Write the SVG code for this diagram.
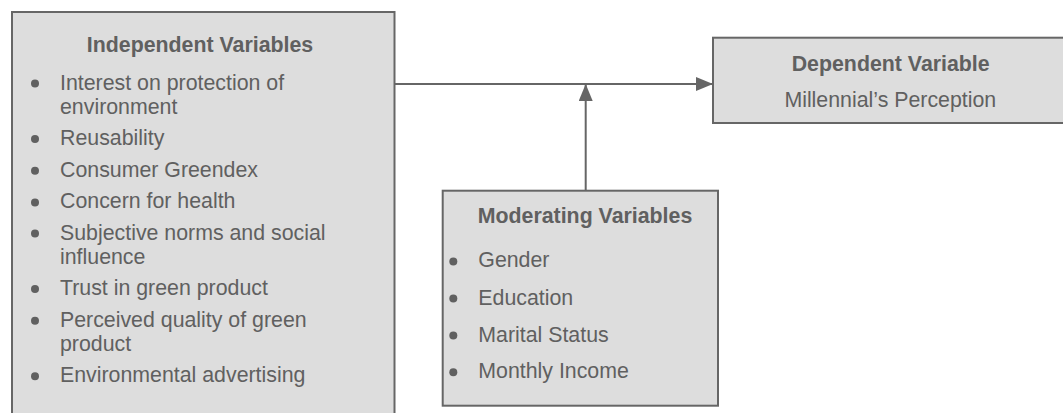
<svg xmlns="http://www.w3.org/2000/svg" width="1063" height="413" viewBox="0 0 1063 413">
<style>
.box{fill:#dddddd;stroke:#666666;stroke-width:2}
.t{font-family:"Liberation Sans",Arial,sans-serif;font-size:21.33px;fill:#606060}
.b{font-weight:bold;text-anchor:middle}
.dot{fill:#606060}
.conn{stroke:#666666;stroke-width:2;fill:none}
</style>
<defs>
<marker id="ah" viewBox="0 0 17 14" refX="17" refY="7" markerWidth="17" markerHeight="14" markerUnits="userSpaceOnUse" orient="auto">
<path d="M0,0 L17,7 L0,14 Z" fill="#666666"/>
</marker>
</defs>
<g id="connectors">
<line class="conn" x1="395" y1="84" x2="713" y2="84" marker-end="url(#ah)"/>
<line class="conn" x1="585.7" y1="191" x2="585.7" y2="84" marker-end="url(#ah)"/>
</g>
<g id="independent">
<rect class="box" x="12" y="12" width="382.5" height="420"/>
<text class="t b" x="200" y="51.7">Independent Variables</text>
<g class="t">
<text x="60" y="89.5">Interest on protection of</text>
<text x="60" y="113.5">environment</text>
<text x="60" y="145">Reusability</text>
<text x="60" y="176.8">Consumer Greendex</text>
<text x="60" y="208.4">Concern for health</text>
<text x="60" y="239.5">Subjective norms and social</text>
<text x="60" y="263.5">influence</text>
<text x="60" y="295">Trust in green product</text>
<text x="60" y="326.8">Perceived quality of green</text>
<text x="60" y="350.5">product</text>
<text x="60" y="382.3">Environmental advertising</text>
</g>
<g class="dot">
<circle cx="35" cy="83.5" r="4"/>
<circle cx="35" cy="139" r="4"/>
<circle cx="35" cy="170.8" r="4"/>
<circle cx="35" cy="202.4" r="4"/>
<circle cx="35" cy="233.5" r="4"/>
<circle cx="35" cy="289" r="4"/>
<circle cx="35" cy="320.8" r="4"/>
<circle cx="35" cy="376.3" r="4"/>
</g>
</g>
<g id="dependent">
<rect class="box" x="713" y="37.7" width="360" height="85.3"/>
<text class="t b" x="890.7" y="70.7">Dependent Variable</text>
<text class="t" x="890.3" y="106.7" text-anchor="middle">Millennial’s Perception</text>
</g>
<g id="moderating">
<rect class="box" x="442.7" y="190.7" width="275.3" height="215"/>
<text class="t b" x="585" y="223.3">Moderating Variables</text>
<g class="t">
<text x="478.3" y="267.3">Gender</text>
<text x="478.3" y="304.5">Education</text>
<text x="478.3" y="341.5">Marital Status</text>
<text x="478.3" y="378.3">Monthly Income</text>
</g>
<g class="dot">
<circle cx="453.3" cy="261.5" r="4"/>
<circle cx="453.3" cy="298.5" r="4"/>
<circle cx="453.3" cy="335.5" r="4"/>
<circle cx="453.3" cy="372.3" r="4"/>
</g>
</g>
</svg>
